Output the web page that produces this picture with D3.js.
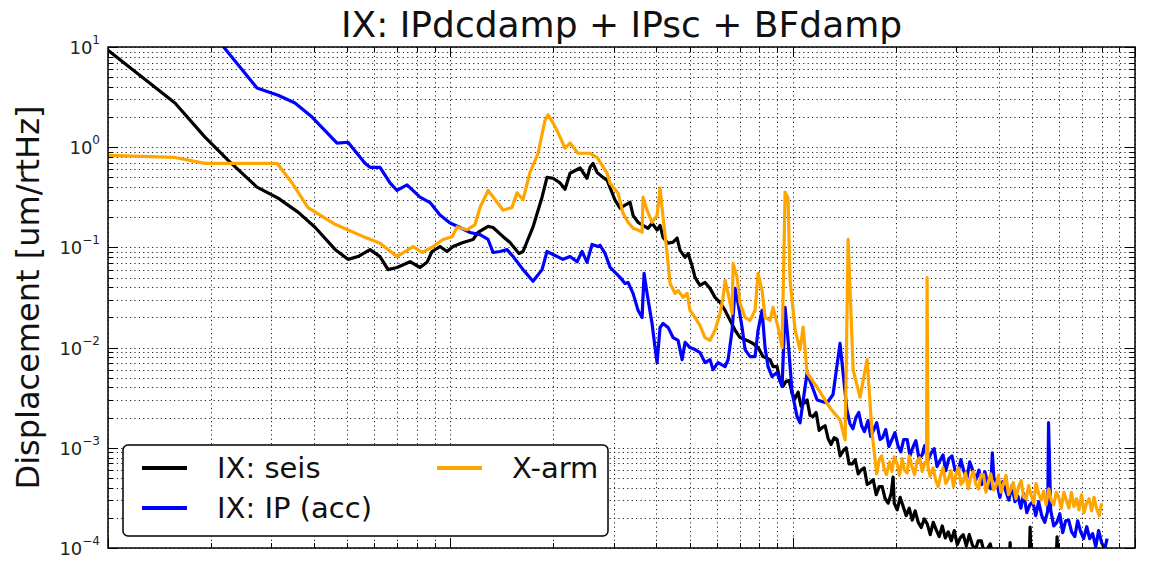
<!DOCTYPE html>
<html>
<head>
<meta charset="utf-8">
<script src="https://cdn.jsdelivr.net/npm/d3@7"></script>
<style>
  body { margin: 0; background: #fff; }
  svg { display: block; font-family: "DejaVu Sans", sans-serif; }
</style>
</head>
<body>
<div id="drawing"></div>
<script>
// frequency [Hz], displacement [um/rtHz]
var freqRange = [0.01, 10];
var ampRange = [1e-4, 10];
var yTickExponents = [-4, -3, -2, -1, 0, 1];
var seriesNames = ["IX: seis", "IX: IP (acc)", "X-arm"];
var seriesColors = ["#000000", "#0000ff", "#ffa500"];

var seisData = [
  [0.0100, 9.3], [0.01569, 2.76], [0.01920, 1.26], [0.02241, 0.742], [0.02724, 0.40],
  [0.03139, 0.31], [0.03590, 0.225], [0.04025, 0.159], [0.04605, 0.0955], [0.05025, 0.076],
  [0.05375, 0.081], [0.05826, 0.095], [0.06231, 0.081], [0.06577, 0.060], [0.06987, 0.063],
  [0.07626, 0.072], [0.08155, 0.063], [0.08548, 0.071], [0.08841, 0.091], [0.09330, 0.102],
  [0.09781, 0.091], [0.1018, 0.102], [0.1089, 0.112], [0.1165, 0.12], [0.1205, 0.141],
  [0.1289, 0.162], [0.1333, 0.158], [0.1426, 0.128], [0.1494, 0.112], [0.1587, 0.087],
  [0.1631, 0.091], [0.1744, 0.16], [0.1853, 0.317], [0.1916, 0.50], [0.1995, 0.49],
  [0.2091, 0.44], [0.2163, 0.38], [0.2237, 0.55], [0.2393, 0.62], [0.2508, 0.49],
  [0.2559, 0.63], [0.2611, 0.69], [0.2683, 0.56], [0.2793, 0.50], [0.2870, 0.468],
  [0.3028, 0.296], [0.3132, 0.246], [0.3238, 0.264], [0.3350, 0.282], [0.3418, 0.209],
  [0.3535, 0.178], [0.3656, 0.166], [0.3781, 0.155], [0.3884, 0.174], [0.4017, 0.149],
  [0.4099, 0.166], [0.4182, 0.126], [0.4326, 0.110], [0.4473, 0.113], [0.4596, 0.124],
  [0.4690, 0.0933], [0.4851, 0.0795], [0.4950, 0.0871], [0.5080, 0.0661], [0.5186, 0.0502],
  [0.5292, 0.0447], [0.5363, 0.0418], [0.5546, 0.0447], [0.5736, 0.039], [0.5932, 0.0317],
  [0.6136, 0.0282], [0.6347, 0.0235], [0.6566, 0.0187], [0.6790, 0.0149], [0.7021, 0.0126],
  [0.7360, 0.0118], [0.7661, 0.0110], [0.7923, 0.0100], [0.8193, 0.00813], [0.8590, 0.00759],
  [0.8764, 0.00646],
  [0.900, 6.5e-3], [0.918, 4.7e-3], [0.937, 4.1e-3], [0.956, 4.6e-3], [0.976, 4.7e-3],
  [0.996, 3.5e-3], [1.016, 3.1e-3], [1.037, 3.6e-3], [1.058, 2.6e-3], [1.080, 2.8e-3],
  [1.102, 3.0e-3], [1.124, 2.1e-3], [1.147, 2.05e-3], [1.171, 2.25e-3], [1.195, 1.49e-3],
  [1.219, 1.59e-3], [1.244, 1.66e-3], [1.269, 1.24e-3], [1.295, 1.08e-3], [1.322, 1.26e-3],
  [1.349, 1.21e-3], [1.376, 8.3e-4], [1.404, 9.3e-4], [1.433, 1.0e-3], [1.462, 6.9e-4],
  [1.492, 6.9e-4], [1.523, 7.6e-4], [1.554, 5.5e-4], [1.585, 6.0e-4], [1.618, 6.3e-4],
  [1.651, 4.3e-4], [1.684, 4.5e-4], [1.719, 4.8e-4], [1.754, 3.4e-4], [1.790, 4.1e-4],
  [1.826, 4.1e-4], [1.863, 3.1e-4], [1.901, 2.8e-4], [1.940, 3.5e-4], [1.965, 5.1e-4],
  [1.980, 2.8e-4], [2.020, 2.4e-4], [2.061, 3.2e-4], [2.103, 2.6e-4], [2.146, 2.1e-4],
  [2.190, 2.5e-4], [2.235, 1.9e-4], [2.280, 2.35e-4], [2.327, 1.8e-4], [2.374, 1.6e-4],
  [2.423, 1.95e-4], [2.472, 1.74e-4], [2.523, 1.36e-4], [2.574, 1.8e-4], [2.627, 1.52e-4],
  [2.680, 1.3e-4], [2.735, 1.66e-4], [2.791, 1.26e-4], [2.848, 1.45e-4], [2.906, 1.18e-4],
  [2.965, 1.49e-4], [3.026, 1.08e-4], [3.087, 1.26e-4], [3.150, 1.36e-4], [3.215, 1.05e-4],
  [3.280, 1.36e-4], [3.347, 1.08e-4], [3.415, 9.5e-5], [3.485, 1.18e-4], [3.556, 1.18e-4],
  [3.629, 8.9e-5], [3.703, 9.8e-5], [3.778, 1.1e-4], [3.855, 8.0e-5], [3.934, 9.8e-5],
  [4.014, 8.1e-5], [4.090, 7.6e-5], [4.289, 7.0e-5], [4.317, 1.13e-4], [4.346, 7.0e-5],
  [4.907, 7.0e-5], [4.939, 1.62e-4], [4.972, 7.0e-5], [5.88, 7.0e-5], [5.921, 1.29e-4],
  [5.96, 7.0e-5], [8.0, 6.5e-5]
];

var ipData = [
  [0.02097, 11.7], [0.02724, 3.9], [0.03139, 3.3], [0.03518, 2.76], [0.03945, 2.0],
  [0.04667, 1.1], [0.05025, 1.12], [0.05633, 0.69], [0.05826, 0.63], [0.06231, 0.63],
  [0.06665, 0.44], [0.06987, 0.37], [0.07473, 0.42], [0.08155, 0.317], [0.08723, 0.28],
  [0.09330, 0.21], [0.09980, 0.175], [0.1067, 0.158], [0.1142, 0.141], [0.1221, 0.134],
  [0.1289, 0.12], [0.1333, 0.089], [0.1397, 0.091], [0.1464, 0.095], [0.1525, 0.081],
  [0.1631, 0.060], [0.1744, 0.046], [0.1853, 0.060], [0.1916, 0.091], [0.1995, 0.085],
  [0.2134, 0.076], [0.2237, 0.081], [0.2345, 0.072], [0.2425, 0.091], [0.2508, 0.071],
  [0.2594, 0.107], [0.2701, 0.102], [0.2737, 0.105], [0.2831, 0.0871], [0.2929, 0.0632],
  [0.3028, 0.0563], [0.3132, 0.0502], [0.3238, 0.0437], [0.3304, 0.0447], [0.3418, 0.0348],
  [0.3535, 0.0235], [0.3632, 0.02], [0.3681, 0.055], [0.3755, 0.0348], [0.3884, 0.0174],
  [0.3963, 0.01], [0.4017, 0.00708], [0.4099, 0.0159], [0.4182, 0.0174], [0.4326, 0.0159],
  [0.4473, 0.0126], [0.4627, 0.0118], [0.4754, 0.00759], [0.4851, 0.0113], [0.5012, 0.01],
  [0.5186, 0.00955], [0.5363, 0.00891], [0.5546, 0.00708], [0.5736, 0.00759], [0.5853, 0.00603],
  [0.6054, 0.00708], [0.6347, 0.00646], [0.6478, 0.00759], [0.6654, 0.0149], [0.6790, 0.039],
  [0.6928, 0.0276], [0.7116, 0.0159], [0.7261, 0.00955], [0.7508, 0.00813], [0.7765, 0.00813],
  [0.7923, 0.0149], [0.8138, 0.0235], [0.8305, 0.01], [0.8474, 0.00646], [0.8705, 0.00514],
  [0.9004, 0.00563], [0.9313, 0.00408], [0.9503, 0.0252], [0.9696, 0.0118], [0.9963, 0.00356],
  [1.030, 0.00205], [1.051, 0.00178], [1.102, 0.0056], [1.179, 0.003],
  [1.260, 0.0028], [1.312, 0.0034], [1.375, 0.011],
  [1.44, 2.4e-3], [1.47, 1.74e-3], [1.50, 1.55e-3], [1.53, 2.0e-3], [1.56, 2.25e-3],
  [1.59, 1.66e-3], [1.62, 1.45e-3], [1.66, 1.87e-3], [1.69, 1.3e-3], [1.73, 1.55e-3],
  [1.76, 1.78e-3], [1.80, 1.21e-3], [1.83, 1.26e-3], [1.87, 1.52e-3], [1.91, 1.03e-3],
  [1.95, 1.21e-3], [1.99, 1.42e-3], [2.03, 1.05e-3], [2.07, 9.1e-4], [2.11, 1.21e-3],
  [2.16, 1.21e-3], [2.20, 8.3e-4], [2.25, 1.03e-3], [2.29, 1.18e-3], [2.34, 7.8e-4],
  [2.39, 8.5e-4], [2.43, 1.05e-3], [2.48, 7.4e-4], [2.53, 8.7e-4], [2.59, 9.8e-4],
  [2.64, 6.5e-4], [2.69, 7.4e-4], [2.75, 8.5e-4], [2.80, 5.9e-4], [2.86, 7.8e-4],
  [2.92, 8.3e-4], [2.98, 6.0e-4], [3.04, 5.6e-4], [3.10, 7.6e-4], [3.16, 5.9e-4],
  [3.23, 5.0e-4], [3.29, 7.25e-4], [3.36, 5.9e-4], [3.43, 4.8e-4], [3.50, 6.0e-4],
  [3.57, 4.3e-4], [3.64, 5.8e-4], [3.72, 4.3e-4], [3.79, 3.9e-4], [3.83, 8.9e-4],
  [3.87, 5.0e-4], [3.95, 4.4e-4], [4.03, 3.2e-4], [4.11, 4.6e-4], [4.19, 3.7e-4],
  [4.28, 3.0e-4], [4.37, 4.2e-4], [4.46, 2.9e-4], [4.55, 3.3e-4], [4.64, 2.5e-4],
  [4.73, 3.5e-4], [4.83, 2.25e-4], [4.93, 2.7e-4], [5.03, 2.9e-4], [5.13, 2.1e-4],
  [5.23, 2.9e-4], [5.34, 2.1e-4], [5.45, 1.8e-4], [5.56, 2.35e-4], [5.59, 1.78e-3],
  [5.67, 2.4e-4], [5.79, 1.66e-4], [5.91, 1.8e-4], [6.03, 2.2e-4], [6.15, 1.42e-4],
  [6.27, 1.87e-4], [6.40, 1.9e-4], [6.53, 1.45e-4], [6.67, 1.3e-4], [6.80, 1.87e-4],
  [6.94, 1.45e-4], [7.08, 1.24e-4], [7.23, 1.63e-4], [7.37, 1.24e-4], [7.52, 1.39e-4],
  [7.68, 1.03e-4], [7.83, 1.49e-4], [7.99, 1.13e-4], [8.16, 9.8e-5], [8.29, 1.24e-4]
];

var xarmData = [
  [0.0100, 0.83], [0.01569, 0.79], [0.01920, 0.69], [0.02303, 0.69], [0.03117, 0.69],
  [0.03449, 0.44], [0.03840, 0.25], [0.04605, 0.17], [0.05633, 0.126], [0.06231, 0.11],
  [0.06987, 0.081], [0.07780, 0.102], [0.08265, 0.089], [0.08900, 0.102], [0.09521, 0.12],
  [0.1012, 0.128], [0.1046, 0.16], [0.1119, 0.15], [0.1180, 0.168], [0.1221, 0.25],
  [0.1289, 0.37], [0.1351, 0.30], [0.1426, 0.235], [0.1514, 0.25], [0.1566, 0.35],
  [0.1631, 0.30], [0.1709, 0.56], [0.1804, 0.87], [0.1891, 1.86], [0.1930, 2.1],
  [0.1995, 1.75], [0.2063, 1.4], [0.2163, 0.98], [0.2237, 1.1], [0.2360, 0.87],
  [0.2559, 0.87], [0.2683, 0.79], [0.2870, 0.55], [0.2929, 0.437], [0.3090, 0.348],
  [0.3195, 0.219], [0.3304, 0.178], [0.3418, 0.155], [0.3535, 0.149], [0.3632, 0.142],
  [0.3656, 0.317], [0.3755, 0.235], [0.3884, 0.178], [0.4017, 0.209], [0.4099, 0.39],
  [0.4182, 0.2], [0.4297, 0.0871], [0.4384, 0.0437], [0.4534, 0.0348], [0.4627, 0.0372],
  [0.4786, 0.0317], [0.4917, 0.0348], [0.5012, 0.0235], [0.5186, 0.02], [0.5363, 0.0166],
  [0.5546, 0.0126], [0.5736, 0.0118], [0.5932, 0.0149], [0.6136, 0.0219], [0.6262, 0.0317],
  [0.6347, 0.0468], [0.6478, 0.0348], [0.6654, 0.0219], [0.6699, 0.0692], [0.6882, 0.0502],
  [0.7021, 0.0276], [0.7261, 0.02], [0.7508, 0.0187], [0.7765, 0.0235], [0.7923, 0.055],
  [0.8138, 0.0372], [0.8305, 0.02], [0.8590, 0.0187], [0.8764, 0.0252], [0.9065, 0.0159],
  [0.9313, 0.01], [0.9503, 0.356], [0.9696, 0.31], [0.9827, 0.0468], [1.0166, 0.0149],
  [1.051, 0.00955], [1.073, 0.016], [1.102, 0.0056], [1.179, 0.004], [1.286, 0.0025],
  [1.375, 0.0019], [1.423, 0.0012], [1.452, 0.12], [1.502, 0.006], [1.573, 0.0032],
  [1.650, 0.0076], [1.706, 0.0014],
  [1.76, 5.5e-4], [1.79, 7.6e-4], [1.82, 8.3e-4], [1.85, 6.2e-4], [1.88, 5.4e-4],
  [1.92, 7.25e-4], [1.95, 5.8e-4], [1.98, 8.1e-4], [2.02, 6.9e-4], [2.05, 5.3e-4],
  [2.09, 7.8e-4], [2.12, 6.0e-4], [2.16, 5.6e-4], [2.19, 8.3e-4], [2.23, 6.5e-4],
  [2.27, 5.4e-4], [2.31, 7.4e-4], [2.35, 7.95e-4], [2.39, 5.8e-4], [2.43, 7.1e-4],
  [2.46, 7.0e-4], [2.47, 0.050], [2.485, 6.5e-4], [2.52, 5.2e-4],
  [2.57, 6.3e-4], [2.62, 4.7e-4], [2.66, 4.1e-4], [2.71, 5.4e-4], [2.75, 6.3e-4],
  [2.80, 4.4e-4], [2.85, 4.9e-4], [2.90, 5.9e-4], [2.95, 4.1e-4], [3.00, 5.5e-4],
  [3.05, 6.3e-4], [3.10, 4.3e-4], [3.15, 4.6e-4], [3.20, 5.6e-4], [3.26, 3.9e-4],
  [3.31, 5.0e-4], [3.37, 5.8e-4], [3.43, 4.3e-4], [3.49, 3.9e-4], [3.55, 5.4e-4],
  [3.61, 5.4e-4], [3.67, 3.6e-4], [3.73, 4.6e-4], [3.79, 5.5e-4], [3.86, 3.8e-4],
  [3.92, 4.1e-4], [3.99, 5.3e-4], [4.06, 3.6e-4], [4.13, 4.4e-4], [4.20, 5.3e-4],
  [4.27, 3.4e-4], [4.34, 3.9e-4], [4.41, 4.5e-4], [4.49, 3.1e-4], [4.57, 4.1e-4],
  [4.65, 4.7e-4], [4.73, 3.2e-4], [4.81, 3.1e-4], [4.89, 4.2e-4], [4.97, 3.4e-4],
  [5.06, 2.8e-4], [5.14, 4.4e-4], [5.23, 3.5e-4], [5.32, 3.0e-4], [5.41, 3.7e-4],
  [5.50, 2.7e-4], [5.60, 3.9e-4], [5.69, 3.0e-4], [5.79, 2.7e-4], [5.89, 3.6e-4],
  [5.99, 3.2e-4], [6.09, 2.5e-4], [6.20, 3.6e-4], [6.30, 3.0e-4], [6.41, 2.5e-4],
  [6.52, 3.6e-4], [6.63, 2.6e-4], [6.75, 3.1e-4], [6.86, 2.4e-4], [6.98, 3.4e-4],
  [7.10, 2.25e-4], [7.22, 2.8e-4], [7.34, 3.1e-4], [7.47, 2.35e-4], [7.59, 3.2e-4],
  [7.72, 2.5e-4], [7.86, 2.1e-4], [7.99, 2.8e-4]
];

var width = 1152;
var height = 563;
var margin = {top: 47, right: 17, bottom: 15, left: 108};
var drawing, plotArea, xScale, yScale;

function isDecade(d) {
  var l = Math.log10(d);
  return Math.abs(l - Math.round(l)) < 1e-6;
}

function setup() {
  drawing = d3.select("#drawing").append("svg")
    .attr("width", width)
    .attr("height", height);

  xScale = d3.scaleLog().domain(freqRange).range([margin.left, width - margin.right]);
  yScale = d3.scaleLog().domain(ampRange).range([height - margin.bottom, margin.top]);

  drawing.append("defs").append("clipPath").attr("id", "plotClip")
    .append("rect")
    .attr("x", margin.left).attr("y", margin.top)
    .attr("width", width - margin.left - margin.right)
    .attr("height", height - margin.top - margin.bottom);

  plotArea = drawing.append("g");
}

function make() {
  var x0 = xScale.range()[0], x1 = xScale.range()[1];
  var y0 = yScale.range()[1], y1 = yScale.range()[0];
  var xTicks = xScale.ticks();
  var yTicks = yScale.ticks();

  // dotted grid, major and minor
  var grid = plotArea.append("g")
    .attr("stroke", "#222")
    .attr("stroke-width", 1)
    .attr("stroke-dasharray", "1.2,3.2");
  grid.selectAll(".vg").data(xTicks).enter().append("line")
    .attr("x1", d => Math.round(xScale(d)) + 0.5).attr("x2", d => Math.round(xScale(d)) + 0.5)
    .attr("y1", y0).attr("y2", y1);
  grid.selectAll(".hg").data(yTicks).enter().append("line")
    .attr("y1", d => Math.round(yScale(d)) + 0.5).attr("y2", d => Math.round(yScale(d)) + 0.5)
    .attr("x1", x0).attr("x2", x1);

  // data lines
  var lineGen = d3.line()
    .x(d => xScale(d[0]))
    .y(d => yScale(d[1]));

  var lines = plotArea.append("g").attr("clip-path", "url(#plotClip)");
  [seisData, ipData, xarmData].forEach(function(data, i) {
    lines.append("path")
      .attr("d", lineGen(data))
      .attr("fill", "none")
      .attr("stroke", seriesColors[i])
      .attr("stroke-width", 3.2)
      .attr("stroke-linejoin", "round");
  });

  // ticks inside on all sides
  var ticks = plotArea.append("g").attr("stroke", "#000").attr("stroke-width", 1);
  xTicks.forEach(function(d) {
    var x = Math.round(xScale(d)) + 0.5;
    var len = isDecade(d) ? 10 : 5;
    ticks.append("line").attr("x1", x).attr("x2", x).attr("y1", y1).attr("y2", y1 - len);
    ticks.append("line").attr("x1", x).attr("x2", x).attr("y1", y0).attr("y2", y0 + len);
  });
  yTicks.forEach(function(d) {
    var y = Math.round(yScale(d)) + 0.5;
    var len = isDecade(d) ? 10 : 5;
    ticks.append("line").attr("y1", y).attr("y2", y).attr("x1", x0).attr("x2", x0 + len);
    ticks.append("line").attr("y1", y).attr("y2", y).attr("x1", x1).attr("x2", x1 - len);
  });

  // frame
  plotArea.append("rect")
    .attr("x", x0).attr("y", y0)
    .attr("width", x1 - x0).attr("height", y1 - y0)
    .attr("fill", "none")
    .attr("stroke", "#000")
    .attr("stroke-width", 1.5);

  // y tick labels 10^n
  var yLabels = drawing.append("g")
    .attr("font-size", 18)
    .attr("fill", "#222")
    .attr("text-anchor", "end");
  yTickExponents.forEach(function(e) {
    var t = yLabels.append("text")
      .attr("x", x0 - 8)
      .attr("y", yScale(Math.pow(10, e)) + 7);
    t.append("tspan").text("10");
    t.append("tspan")
      .attr("font-size", 12)
      .attr("dy", -10)
      .text(e < 0 ? "\u2212" + (-e) : String(e));
  });

  // title and axis label
  drawing.append("text")
    .attr("x", (x0 + x1) / 2)
    .attr("y", 37)
    .attr("text-anchor", "middle")
    .attr("font-size", 36)
    .attr("fill", "#111")
    .text("IX: IPdcdamp + IPsc + BFdamp");

  drawing.append("text")
    .attr("transform", "translate(39," + ((y0 + y1) / 2) + ") rotate(-90)")
    .attr("text-anchor", "middle")
    .attr("font-size", 32)
    .attr("fill", "#111")
    .text("Displacement [um/rtHz]");

  // legend, two columns
  var legend = drawing.append("g");
  legend.append("rect")
    .attr("x", 123).attr("y", 445)
    .attr("width", 485).attr("height", 91)
    .attr("rx", 5)
    .attr("fill", "#fff")
    .attr("stroke", "#000")
    .attr("stroke-width", 1.5);

  var legendPos = [[142, 468], [142, 508], [437, 468]];
  seriesNames.forEach(function(name, i) {
    var p = legendPos[i];
    legend.append("line")
      .attr("x1", p[0]).attr("x2", p[0] + 45)
      .attr("y1", p[1]).attr("y2", p[1])
      .attr("stroke", seriesColors[i])
      .attr("stroke-width", 4);
    legend.append("text")
      .attr("x", p[0] + 75)
      .attr("y", p[1] + 10)
      .attr("font-size", 29)
      .attr("fill", "#111")
      .text(name);
  });
}

setup();
make();
</script>
</body>
</html>
